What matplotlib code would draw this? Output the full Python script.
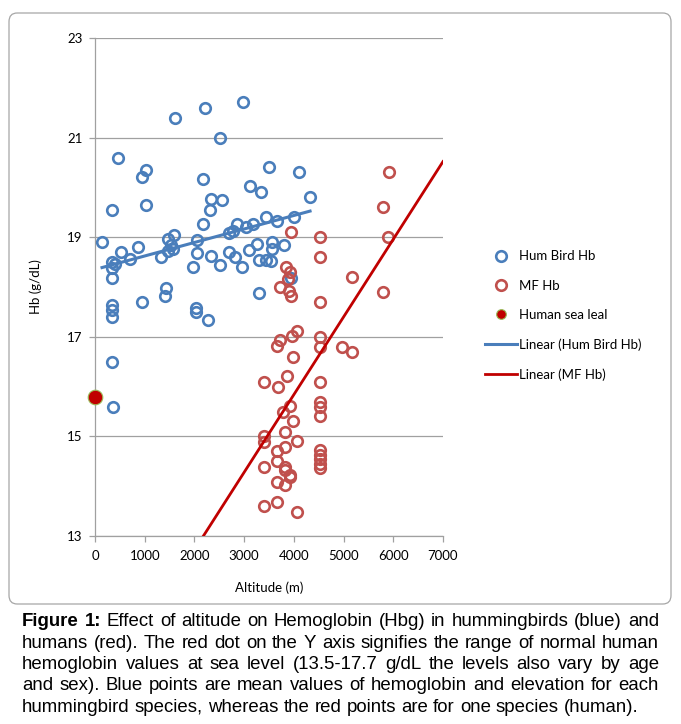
import numpy as np
import matplotlib
matplotlib.use('Agg')
import matplotlib.pyplot as plt
from matplotlib.lines import Line2D
from matplotlib.patches import FancyBboxPatch

# hummingbird species (altitude m, Hb g/dL)
hum_alt = [1610, 2213, 2970, 2515, 470, 1020, 952, 3495, 2170, 3122, 3343, 336, 1032,
           2330, 2549, 2310, 2180, 141, 517, 865, 704, 350, 400, 336, 336, 1475, 1590,
           1523, 1576, 1475, 1328, 2046, 2059, 1978, 2330, 2515, 2690, 2766, 2850, 3035,
           3185, 3447, 3655, 2698, 2823, 2948, 3100, 3260, 3568, 3290, 3431, 3541, 3555,
           3803, 4110, 4326, 4004, 3938, 3300, 1429, 1408, 2032, 2032, 2274, 952, 336,
           336, 336, 336, 356]
hum_hb = [21.4, 21.6, 21.71, 21.0, 20.6, 20.34, 20.2, 20.4, 20.17, 20.03, 19.9, 19.55, 19.65,
          19.76, 19.74, 19.55, 19.27, 18.9, 18.7, 18.8, 18.56, 18.5, 18.46, 18.39, 18.19, 18.97, 19.05,
          18.84, 18.76, 18.73, 18.61, 18.95, 18.69, 18.41, 18.62, 18.44, 19.09, 19.12, 19.26, 19.2,
          19.26, 19.4, 19.33, 18.7, 18.61, 18.4, 18.74, 18.86, 18.9, 18.54, 18.54, 18.53, 18.76,
          18.84, 20.3, 19.81, 19.41, 18.19, 17.88, 17.97, 17.82, 17.57, 17.5, 17.34, 17.7, 17.64,
          17.54, 17.39, 16.5, 15.6]

# human (MF) values
mf_alt = [5915, 5800, 5902, 5800, 5163, 4527, 4527, 4527, 3938, 3843, 3924, 3890, 3722, 3909,
          3938, 4058, 3957, 3722, 3655, 3990, 4527, 4527, 4964, 5163, 3400, 3688, 3869, 4527,
          4527, 4527, 4527, 3924, 3788, 3990, 3823, 4058, 3823, 3655, 3655, 3823, 3924, 3655,
          3823, 3823, 3400, 3400, 3400, 3400, 3655, 4058, 4527, 4527, 4527, 4527, 4527, 3924]
mf_hb = [20.3, 19.6, 19.0, 17.9, 18.2, 19.0, 18.6, 17.7, 19.1, 18.41, 18.31, 18.17, 17.99, 17.91,
         17.81, 17.12, 17.02, 16.94, 16.82, 16.6, 17.0, 16.8, 16.8, 16.7, 16.1, 16.0, 16.21, 16.1,
         15.7, 15.6, 15.4, 15.61, 15.5, 15.3, 15.09, 14.91, 14.79, 14.7, 14.51, 14.39, 14.19, 14.09,
         14.02, 14.33, 15.0, 14.89, 14.39, 13.6, 13.69, 13.49, 14.73, 14.63, 14.54, 14.45, 14.36, 14.22]

sea_alt = [0]
sea_hb = [15.8]

# trend lines as shown in the chart (slope, intercept)
hum_trend = (0.000271, 18.352)
mf_trend = (0.00156, 9.599)

blue = '#4A7EBB'
red = '#C0504D'
dark_red = '#C00000'

plt.rcParams['font.family'] = ['Lato', 'DejaVu Sans']

fig = plt.figure(figsize=(6.81, 7.24), dpi=100)
frame = FancyBboxPatch((9 / 681, 1 - 604 / 724), 662 / 681, 591 / 724,
                       boxstyle='round,pad=0,rounding_size=0.012', transform=fig.transFigure,
                       fill=False, edgecolor='#A6A6A6', linewidth=0.9)
fig.patches.append(frame)

ax = fig.add_axes([95 / 681, 1 - 536 / 724, 348 / 681, 498 / 724])

ax.plot(hum_alt, hum_hb, 'o', ms=7.6, mfc='none', mec=blue, mew=1.9, zorder=3)
ax.plot(mf_alt, mf_hb, 'o', ms=7.6, mfc='none', mec=red, mew=1.9, zorder=3)
ax.plot(sea_alt, sea_hb, 'o', ms=10.5, mfc=dark_red, mec='#9BBB59', mew=0.8, zorder=5, clip_on=False)

hx = np.array([min(hum_alt), max(hum_alt)])
ax.plot(hx, hum_trend[0] * hx + hum_trend[1], color=blue, lw=2.2, zorder=4)
mx = np.array([0, 7000])
ax.plot(mx, mf_trend[0] * mx + mf_trend[1], color=dark_red, lw=2.0, zorder=4)

ax.set_xlim(0, 7000)
ax.set_ylim(13, 23)
ax.set_xticks(range(0, 7001, 1000))
ax.set_yticks(range(13, 24, 2))
ax.yaxis.grid(True, color='#A0A0A0', lw=0.9)
ax.set_axisbelow(True)
for s in ['top', 'right']:
    ax.spines[s].set_visible(False)
for s in ['left', 'bottom']:
    ax.spines[s].set_color('#A0A0A0')
    ax.spines[s].set_linewidth(0.9)
ax.tick_params(axis='both', colors='#A0A0A0', labelcolor='black', labelsize=9.5, length=4, width=0.9)
ax.tick_params(axis='y', pad=5)
ax.tick_params(axis='x', pad=6)
ax.set_xlabel('Altitude (m)', fontsize=9.5, labelpad=14)
ax.set_ylabel('Hb (g/dL)', fontsize=9.5, labelpad=18)

handles = [
    Line2D([], [], ls='none', marker='o', ms=7.6, mfc='none', mec=blue, mew=1.9),
    Line2D([], [], ls='none', marker='o', ms=7.6, mfc='none', mec=red, mew=1.9),
    Line2D([], [], ls='none', marker='o', ms=7, mfc=dark_red, mec='#9BBB59', mew=0.8),
    Line2D([], [], color=blue, lw=2.2),
    Line2D([], [], color=dark_red, lw=2.0),
]
labels = ['Hum Bird Hb', 'MF Hb', 'Human sea leal', 'Linear (Hum Bird Hb)', 'Linear (MF Hb)']
fig.legend(handles, labels, loc='center left', bbox_to_anchor=(485 / 681, 1 - 315.5 / 724),
           frameon=False, fontsize=9.5, handlelength=2.4, handletextpad=0.15,
           labelspacing=1.32, borderpad=0, borderaxespad=0)

# caption, justified word by word
caption_lines = [
    [('Figure', 'bold'), ('1:', 'bold'), 'Effect', 'of', 'altitude', 'on', 'Hemoglobin', '(Hbg)',
     'in', 'hummingbirds', '(blue)', 'and'],
    'humans (red). The red dot on the Y axis signifies the range of normal human'.split(),
    'hemoglobin values at sea level (13.5-17.7 g/dL the levels also vary by age'.split(),
    'and sex). Blue points are mean values of hemoglobin and elevation for each'.split(),
    'hummingbird species, whereas the red points are for one species (human).'.split(),
]
cap_left, cap_right = 22, 659
cap_y0, cap_dy = 622, 21.3
cap_size = 13.4
cap_font = ['Liberation Sans', 'DejaVu Sans']
renderer = fig.canvas.get_renderer()
t1 = fig.text(0, 0, 'a b', fontsize=cap_size, family=cap_font)
t2 = fig.text(0, 0, 'ab', fontsize=cap_size, family=cap_font)
space = t1.get_window_extent(renderer).width - t2.get_window_extent(renderer).width
t1.remove()
t2.remove()
for i, words in enumerate(caption_lines):
    items = []
    for w in words:
        if isinstance(w, tuple):
            items.append(w)
        else:
            items.append((w, 'normal'))
    texts = []
    for w, wt in items:
        t = fig.text(0, 1 - (cap_y0 + i * cap_dy) / 724, w, fontsize=cap_size, family=cap_font,
                     weight=wt, va='center', ha='left')
        texts.append(t)
    widths = [t.get_window_extent(renderer).width for t in texts]
    if i < len(caption_lines) - 1:
        gap = (cap_right - cap_left - sum(widths)) / (len(texts) - 1)
    else:
        gap = space
    x = cap_left
    for t, w in zip(texts, widths):
        t.set_x(x / 681)
        x += w + gap

fig.savefig('out.png', dpi=100)
